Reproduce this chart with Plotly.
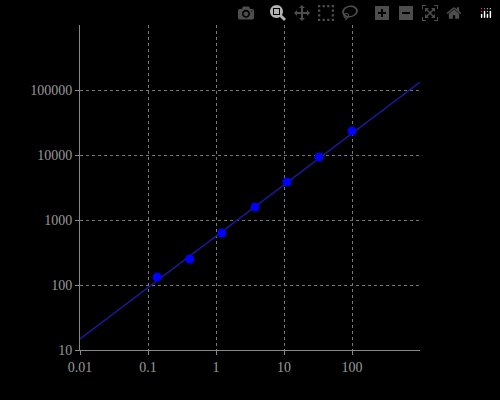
import plotly.graph_objects as go

# measured points
conc = [0.136, 0.41, 1.22, 3.75, 11.1, 32.7, 100]
signal = [133, 251, 631, 1585, 3850, 9300, 23400]

# fitted line endpoints
fit_x = [0.01, 1000]
fit_y = [14.8, 132000]

fig = go.Figure()
fig.add_trace(go.Scatter(x=fit_x, y=fit_y, mode='lines',
                         line=dict(color='#1a1a9a', width=1.5)))
fig.add_trace(go.Scatter(x=conc, y=signal, mode='markers',
                         marker=dict(color='#0000ff', size=9)))

axis_common = dict(type='log', showgrid=True, gridcolor='#777777', griddash='dot',
                   gridwidth=1, showline=True, linecolor='#888888', linewidth=1,
                   ticks='outside', tickcolor='#888888', ticklen=4,
                   tickfont=dict(family='Liberation Serif', size=14, color='#999999'),
                   zeroline=False, mirror=False)

fig.update_layout(
    width=500, height=400,
    paper_bgcolor='black', plot_bgcolor='black',
    showlegend=False,
    margin=dict(l=80, r=80, t=25, b=50),
    xaxis=dict(range=[-2, 3], tickvals=[0.01, 0.1, 1, 10, 100],
               ticktext=['0.01', '0.1', '1', '10', '100'], **axis_common),
    yaxis=dict(range=[1, 6], tickvals=[10, 100, 1000, 10000, 100000],
               ticktext=['10', '100', '1000', '10000', '100000'], **axis_common),
)

fig.write_html("out.html",
               post_script="document.body.style.margin='0';document.body.style.background='black';")
